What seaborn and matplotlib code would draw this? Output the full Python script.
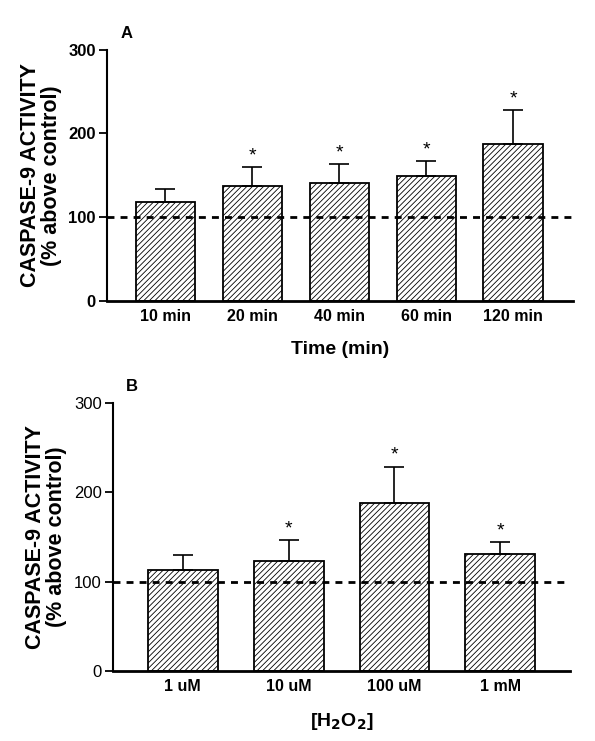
import pandas as pd
import matplotlib.pyplot as plt
import seaborn as sns

# Panel A: time course
time_labels = ["10 min", "20 min", "40 min", "60 min", "120 min"]
time_means = [118, 137, 141, 149, 187]
time_err = [16, 23, 23, 18, 41]
time_sig = [False, True, True, True, True]

# Panel B: H2O2 dose
dose_labels = ["1 uM", "10 uM", "100 uM", "1 mM"]
dose_means = [113, 123, 188, 131]
dose_err = [17, 24, 41, 13]
dose_sig = [False, True, True, True]

sns.set_style("ticks", {"axes.edgecolor": "black", "text.color": "black",
                        "xtick.color": "black", "ytick.color": "black",
                        "axes.labelcolor": "black"})
plt.rcParams['font.family'] = ['Liberation Sans', 'DejaVu Sans']
plt.rcParams['hatch.linewidth'] = 0.6

fig = plt.figure(figsize=(5.95, 7.41), dpi=100)
axA = fig.add_axes([0.180, 0.594, 0.783, 0.339])
axB = fig.add_axes([0.190, 0.0945, 0.768, 0.3615])


def draw_panel(ax, labels, means, errs, sig, width, xlim, xlabel, letter, bold_yticks):
    df = pd.DataFrame({"group": labels, "value": means})
    sns.barplot(data=df, x="group", y="value", ax=ax, color="white",
                edgecolor="black", linewidth=1.3, width=width, errorbar=None)
    for p in ax.patches:
        p.set_hatch("//////")
        p.set_edgecolor("black")
    xs = range(len(labels))
    ax.errorbar(list(xs), means, yerr=[[0] * len(errs), errs], fmt="none",
                ecolor="black", elinewidth=1.2, capsize=7, capthick=1.2, zorder=3)
    for x, m, e, s in zip(xs, means, errs, sig):
        if s:
            ax.text(x, m + e + 3, "*", ha="center", va="bottom", fontsize=14)
    ax.axhline(100, color="black", linestyle=(0, (2.5, 2.2)), linewidth=2, zorder=4)
    ax.set_ylim(0, 300)
    ax.set_xlim(*xlim)
    ax.set_yticks([0, 100, 200, 300])
    ax.set_ylabel("CASPASE-9 ACTIVITY\n(% above control)", fontsize=15.5,
                  fontweight="bold", labelpad=5, linespacing=1.0)
    ax.set_xlabel(xlabel, fontsize=14, fontweight="bold", labelpad=12)
    ax.tick_params(axis="x", length=0, pad=6, labelsize=11.5)
    ax.tick_params(axis="y", length=6, width=1.3, pad=2, labelsize=12)
    for t in ax.get_xticklabels():
        t.set_fontweight("bold")
    if bold_yticks:
        for t in ax.get_yticklabels():
            t.set_fontweight("bold")
    sns.despine(ax=ax)
    ax.spines["left"].set_linewidth(1.5)
    ax.spines["bottom"].set_linewidth(2)
    ax.text(0.028, 1.035, letter, transform=ax.transAxes, fontsize=12,
            fontweight="bold", ha="left", va="bottom")


draw_panel(axA, time_labels, time_means, time_err, time_sig, 0.68,
           (-0.67, 4.69), "Time (min)", "A", True)
draw_panel(axB, dose_labels, dose_means, dose_err, dose_sig, 0.66,
           (-0.66, 3.66), "[H$_\\mathbf{2}$O$_\\mathbf{2}$]", "B", False)

fig.savefig("out.png", dpi=100)
